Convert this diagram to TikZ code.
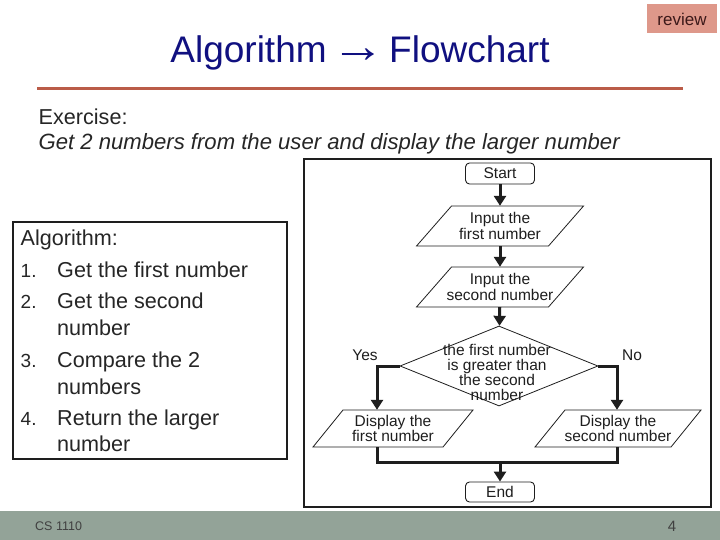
\documentclass[tikz,border=0pt]{standalone}
\usepackage{fontspec}
\setmainfont{Liberation Sans}
\usetikzlibrary{shapes.geometric,arrows.meta,calc}
\definecolor{titleblue}{RGB}{16,16,128}
\definecolor{rulered}{RGB}{186,92,72}
\definecolor{reviewbg}{RGB}{222,152,138}
\definecolor{reviewtext}{RGB}{60,25,25}
\definecolor{footerbg}{RGB}{147,163,152}
\definecolor{ink}{RGB}{30,30,30}
\newcommand\parashape[4]{%
  \draw[draw=ink, line width=0.8pt] ($(#1.center)+({-#2/2+#3/2},{-#4/2})$) -- ++(#2,0) -- ++(-#3,#4) -- ++(-#2,0) -- cycle;}
\begin{document}
\begin{tikzpicture}[x=1pt,y=-1pt,
  flowtext/.style={font=\fontsize{15.5}{15.5}\selectfont, align=center, text=ink},
  term/.style={draw=ink, line width=0.9pt, rounded corners=4pt, minimum width=69pt, minimum height=21pt, inner sep=0pt, flowtext},
  io/.style={minimum height=40pt, inner sep=0pt, flowtext},
  conn/.style={line width=3pt, draw=ink, -{Triangle[length=10pt,width=12pt]}},
  flow/.style={line width=3pt, draw=ink},
  body/.style={font=\fontsize{21.6}{26}\selectfont, anchor=base west, inner sep=0pt, text=black!85},
  num/.style={font=\fontsize{19}{22}\selectfont, anchor=base west, inner sep=0pt, text=black!85}
]
\fill[white] (0,0) rectangle (720,540);
\useasboundingbox (0,0) rectangle (720,540);

% review tag
\node[fill=reviewbg, minimum width=70pt, minimum height=29pt, inner sep=0pt,
      font=\fontsize{17}{17}\selectfont, text=reviewtext] (review) at (682,19) {review};

% title
\node[font=\fontsize{37}{40}\selectfont, text=titleblue, anchor=base, inner sep=0pt] (title) at (360,63) {Algorithm\hspace{0.12em}\raisebox{0.02em}{\scalebox{1.45}[1.3]{→}}\hspace{0.12em}Flowchart};
\draw[rulered, line width=3pt] (37,89) -- (683,89);

% exercise
\node[body] (ex) at (38.5,125) {Exercise:};
\node[body, font=\fontsize{22.1}{26}\selectfont\itshape] (task) at (38.5,150) {Get 2 numbers from the user and display the larger number};

% algorithm box
\node[draw=ink, line width=1.3pt, minimum width=274pt, minimum height=237pt, inner sep=0pt] (algbox) at (150,340.5) {};
\node[body] (alg) at (20.5,245) {Algorithm:};
\node[num] (n1) at (20.5,277) {1.};
\node[body] (t1) at (57,277) {Get the first number};
\node[num] (n2) at (20.5,308) {2.};
\node[body] (t2) at (57,308) {Get the second};
\node[body] (t2b) at (57,335) {number};
\node[num] (n3) at (20.5,367) {3.};
\node[body] (t3) at (57,367) {Compare the 2};
\node[body] (t3b) at (57,394) {numbers};
\node[num] (n4) at (20.5,425) {4.};
\node[body] (t4) at (57,425) {Return the larger};
\node[body] (t4b) at (57,451) {number};

% flowchart frame
\node[draw=ink, line width=1.3pt, minimum width=407pt, minimum height=348pt, inner sep=0pt] (frame) at (507.5,333) {};

\node[term] (start) at (500,173.5) {Start};
\node[io, minimum width=100pt] (p1) at (500,226) {Input the\\first number};
\parashape{p1}{132}{35}{40}
\node[io, minimum width=100pt] (p2) at (500,287) {Input the\\second number};
\parashape{p2}{132}{35}{40}
\node[diamond, draw=ink, line width=0.8pt, minimum width=198pt, minimum height=80pt, inner sep=0pt] (dec) at (499,366) {};
\node[flowtext, font=\fontsize{15.5}{14.8}\selectfont, inner sep=0pt] (dectext) at (497,372.5) {the first number\\is greater than\\the second\\number};
\node[io, minimum width=100pt, minimum height=37pt] (d1) at (393,428.5) {Display the\\first number};
\parashape{d1}{130}{30}{37}
\node[io, minimum width=100pt, minimum height=37pt] (d2) at (618,428.5) {Display the\\second number};
\parashape{d2}{136}{30}{37}
\node[term, minimum height=20pt] (endn) at (500,492) {End};

\node[flowtext] (yes) at (365,355) {Yes};
\node[flowtext] (no) at (632,355) {No};

\coordinate (m) at (500,462);

\draw[conn] (start) -- (p1);
\draw[conn] (p1) -- (p2);
\draw[conn] (p2) -- (dec);
\draw[conn] (dec.west) -| ([xshift=-16pt]d1.north);
\draw[conn] (dec.east) -| ([xshift=-1pt]d2.north);
\draw[flow] ([xshift=-16pt]d1.south) |- (m);
\draw[flow] ([xshift=-1pt]d2.south) |- (m);
\draw[conn] (m) -- (endn);

% footer
\fill[footerbg] (0,511) rectangle (720,540);
\node[font=\fontsize{12.5}{12.5}\selectfont, anchor=west, inner sep=0pt, text=black!75] (cs) at (35,526) {CS 1110};
\node[font=\fontsize{15}{15}\selectfont, inner sep=0pt, text=black!75] (pg) at (672,526) {4};
\end{tikzpicture}
\end{document}
